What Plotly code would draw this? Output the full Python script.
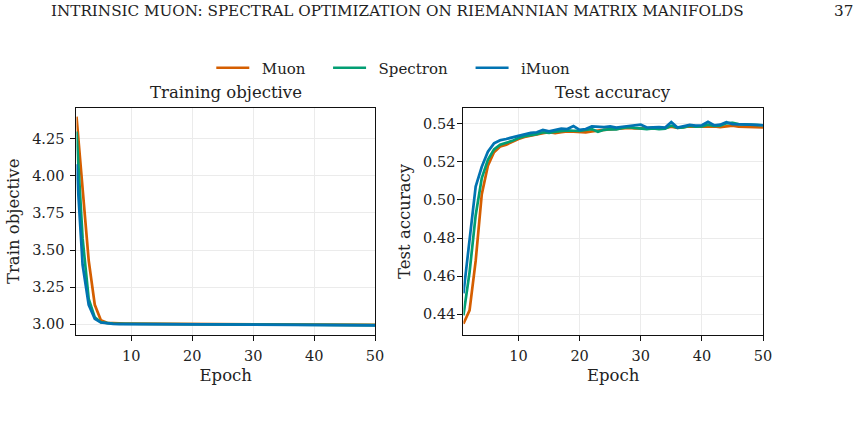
import plotly.graph_objects as go

# ---------------- data ----------------
epochs = list(range(1, 51))

train_muon = [4.40, 3.92, 3.43, 3.13, 3.025, 3.008, 3.005, 3.004, 3.003, 3.003,
              3.0025, 3.002, 3.002, 3.0015, 3.0015, 3.001, 3.001, 3.0005, 3.0005, 3.000,
              3.000, 2.9995, 2.9995, 2.999, 2.999, 2.9988, 2.9986, 2.9984, 2.9982, 2.998,
              2.9978, 2.9976, 2.9974, 2.9972, 2.997, 2.9968, 2.9966, 2.9964, 2.9962, 2.996,
              2.9958, 2.9956, 2.9954, 2.9952, 2.995, 2.9948, 2.9946, 2.9944, 2.9942, 2.994]
train_spectron = [4.30, 3.58, 3.17, 3.045, 3.012, 3.005, 3.003, 3.002, 3.0015, 3.001,
                  3.001, 3.0005, 3.0005, 3.000, 3.000, 2.9995, 2.9995, 2.999, 2.999, 2.9988,
                  2.9986, 2.9984, 2.9982, 2.998, 2.9978, 2.9976, 2.9974, 2.9972, 2.997, 2.9968,
                  2.9966, 2.9964, 2.9962, 2.996, 2.9958, 2.9956, 2.9954, 2.9952, 2.995, 2.9948,
                  2.9946, 2.9944, 2.9942, 2.994, 2.9938, 2.9936, 2.9934, 2.9932, 2.993, 2.9928]
train_imuon = [4.08, 3.40, 3.13, 3.035, 3.010, 3.003, 3.001, 3.000, 2.9998, 2.9996,
               2.9994, 2.9992, 2.999, 2.9988, 2.9986, 2.9984, 2.9982, 2.998, 2.9978, 2.9976,
               2.9974, 2.9972, 2.997, 2.9968, 2.9966, 2.9964, 2.9962, 2.996, 2.9958, 2.9956,
               2.9954, 2.9952, 2.995, 2.9948, 2.9946, 2.9944, 2.9942, 2.994, 2.9938, 2.9936,
               2.9934, 2.9932, 2.993, 2.9928, 2.9926, 2.9924, 2.9922, 2.992, 2.9918, 2.9916]

acc_muon = [0.435, 0.442, 0.468, 0.503, 0.518, 0.525, 0.528, 0.529, 0.5305, 0.532,
            0.533, 0.5338, 0.5342, 0.535, 0.5355, 0.535, 0.5355, 0.536, 0.5358, 0.5356,
            0.5355, 0.536, 0.5365, 0.5368, 0.537, 0.5372, 0.5375, 0.5378, 0.5376, 0.5374,
            0.5375, 0.5378, 0.5376, 0.5378, 0.5385, 0.5378, 0.5382, 0.5386, 0.5384, 0.5385,
            0.5388, 0.5386, 0.5382, 0.5386, 0.539, 0.5385, 0.5383, 0.5384, 0.5381, 0.538]
acc_spectron = [0.4395, 0.462, 0.492, 0.5115, 0.521, 0.5265, 0.529, 0.530, 0.531, 0.5325,
                0.5335, 0.534, 0.5345, 0.5355, 0.5352, 0.5358, 0.5362, 0.5365, 0.5363, 0.5362,
                0.5368, 0.5372, 0.5358, 0.5368, 0.5372, 0.537, 0.5378, 0.5382, 0.5378, 0.5376,
                0.5372, 0.5375, 0.5372, 0.5374, 0.539, 0.5378, 0.538, 0.539, 0.5385, 0.5386,
                0.5395, 0.5388, 0.539, 0.5402, 0.5405, 0.5398, 0.5396, 0.5395, 0.5394, 0.5392]
acc_imuon = [0.451, 0.479, 0.507, 0.5174, 0.5253, 0.5297, 0.5313, 0.532, 0.5328, 0.534,
             0.5345, 0.5352, 0.5355, 0.5367, 0.536, 0.5365, 0.5374, 0.5372, 0.5388, 0.5368,
             0.5372, 0.5386, 0.5384, 0.5382, 0.5386, 0.538, 0.5384, 0.5388, 0.539, 0.5395,
             0.538, 0.5382, 0.5382, 0.538, 0.5409, 0.538, 0.5386, 0.5394, 0.539, 0.5392,
             0.541, 0.5392, 0.5395, 0.5408, 0.5398, 0.5396, 0.5397, 0.5395, 0.5394, 0.5392]

acc_std_muon = [0.0010, 0.0012, 0.0015, 0.0012, 0.0010, 0.0008, 0.0007, 0.0006, 0.0006, 0.0005,
                0.0005, 0.0005, 0.0004, 0.0005, 0.0004, 0.0005, 0.0004, 0.0004, 0.0005, 0.0004,
                0.0004, 0.0005, 0.0004, 0.0004, 0.0005, 0.0004, 0.0004, 0.0005, 0.0004, 0.0004,
                0.0004, 0.0005, 0.0004, 0.0004, 0.0005, 0.0004, 0.0004, 0.0005, 0.0004, 0.0004,
                0.0005, 0.0004, 0.0004, 0.0006, 0.0007, 0.0005, 0.0004, 0.0004, 0.0004, 0.0004]
acc_std_spectron = [0.0012, 0.0014, 0.0013, 0.0011, 0.0009, 0.0008, 0.0007, 0.0006, 0.0006, 0.0005,
                    0.0005, 0.0004, 0.0005, 0.0004, 0.0005, 0.0004, 0.0004, 0.0005, 0.0004, 0.0004,
                    0.0005, 0.0004, 0.0006, 0.0004, 0.0004, 0.0005, 0.0004, 0.0004, 0.0005, 0.0004,
                    0.0004, 0.0005, 0.0004, 0.0004, 0.0006, 0.0005, 0.0004, 0.0005, 0.0004, 0.0004,
                    0.0005, 0.0004, 0.0005, 0.0008, 0.0009, 0.0006, 0.0005, 0.0004, 0.0004, 0.0004]
acc_std_imuon = [0.0013, 0.0015, 0.0012, 0.0010, 0.0010, 0.0010, 0.0009, 0.0007, 0.0006, 0.0005,
                 0.0005, 0.0004, 0.0005, 0.0005, 0.0004, 0.0005, 0.0004, 0.0005, 0.0005, 0.0004,
                 0.0004, 0.0005, 0.0004, 0.0004, 0.0005, 0.0004, 0.0004, 0.0005, 0.0004, 0.0005,
                 0.0004, 0.0004, 0.0005, 0.0004, 0.0006, 0.0004, 0.0004, 0.0005, 0.0004, 0.0005,
                 0.0006, 0.0004, 0.0005, 0.0009, 0.0008, 0.0005, 0.0004, 0.0004, 0.0004, 0.0004]

series_names = ["Muon", "Spectron", "iMuon"]
series_colors = ["#d55e00", "#029e73", "#0173b2"]
band_colors = ["rgba(213,94,0,0.15)", "rgba(2,158,115,0.15)", "rgba(1,115,178,0.15)"]

header_text = "INTRINSIC MUON: SPECTRAL OPTIMIZATION ON RIEMANNIAN MATRIX MANIFOLDS"
page_number = "37"
left_title = "Training objective"
right_title = "Test accuracy"
left_ylabel = "Train objective"
right_ylabel = "Test accuracy"
xlabel = "Epoch"
x_ticks = [10, 20, 30, 40, 50]
left_yticks = [3.00, 3.25, 3.50, 3.75, 4.00, 4.25]
right_yticks = [0.44, 0.46, 0.48, 0.50, 0.52, 0.54]

# ---------------- figure ----------------
W, H = 868, 424
FONT = "DejaVu Serif"
TXT = "#222222"

fig = go.Figure()

train_series = [train_muon, train_spectron, train_imuon]
acc_series = [acc_muon, acc_spectron, acc_imuon]
acc_stds = [acc_std_muon, acc_std_spectron, acc_std_imuon]
legend_ids = ["legend", "legend2", "legend3"]
legend_line_starts = [216, 334, 478]   # pixel x where each legend sample line begins

for i in range(3):
    upper = [m + s for m, s in zip(acc_series[i], acc_stds[i])]
    lower = [m - s for m, s in zip(acc_series[i], acc_stds[i])]
    fig.add_trace(go.Scatter(
        x=epochs + epochs[::-1], y=upper + lower[::-1], fill="toself",
        fillcolor=band_colors[i], line=dict(width=0), hoverinfo="skip",
        showlegend=False, xaxis="x2", yaxis="y2"))

for i in range(3):
    fig.add_trace(go.Scatter(
        x=epochs, y=train_series[i], mode="lines", name="\u2002" + series_names[i],
        line=dict(color=series_colors[i], width=2.7), xaxis="x", yaxis="y",
        showlegend=True, legend=legend_ids[i]))
    fig.add_trace(go.Scatter(
        x=epochs, y=acc_series[i], mode="lines", name=series_names[i],
        line=dict(color=series_colors[i], width=2.7), xaxis="x2", yaxis="y2",
        showlegend=False))

ydom = [1 - 335 / H, 1 - 107.7 / H]
axis_common = dict(
    showline=True, mirror=True, linecolor="#111111", linewidth=1.3,
    ticks="outside", ticklen=5, tickwidth=1.1, tickcolor="#111111",
    showgrid=True, gridcolor="#ebebeb", gridwidth=0.9, zeroline=False,
    tickfont=dict(family=FONT, size=14.5, color=TXT),
)

legend_common = dict(orientation="h", xanchor="left", y=1 - 68 / H, yanchor="middle",
                     font=dict(family=FONT, size=15, color=TXT), bgcolor="rgba(0,0,0,0)",
                     itemwidth=33, borderwidth=0)

fig.update_layout(
    width=W, height=H,
    margin=dict(l=0, r=0, t=0, b=0),
    paper_bgcolor="white", plot_bgcolor="white",
    font=dict(family=FONT, color=TXT),
    xaxis=dict(domain=[77.3 / W, 379 / W], range=[1, 50], tickvals=x_ticks,
               anchor="y", ticklabelstandoff=2,
               title=dict(text=xlabel, font=dict(family=FONT, size=16.5, color=TXT), standoff=6),
               **axis_common),
    yaxis=dict(domain=ydom, range=[2.926, 4.461], tickvals=left_yticks,
               tickformat=".2f", anchor="x", ticklabelstandoff=3,
               title=dict(text=left_ylabel, font=dict(family=FONT, size=16.5, color=TXT), standoff=8),
               **axis_common),
    xaxis2=dict(domain=[468.3 / W, 771 / W], range=[1, 50], tickvals=x_ticks,
                anchor="y2", ticklabelstandoff=2,
                title=dict(text=xlabel, font=dict(family=FONT, size=16.5, color=TXT), standoff=6),
                **axis_common),
    yaxis2=dict(domain=ydom, range=[0.4291, 0.5484], tickvals=right_yticks,
                tickformat=".2f", anchor="x2", ticklabelstandoff=-1,
                title=dict(text=right_ylabel, font=dict(family=FONT, size=16.5, color=TXT), standoff=8),
                **axis_common),
    legend=dict(x=(legend_line_starts[0] - 2.5) / W, **legend_common),
    legend2=dict(x=(legend_line_starts[1] - 2.5) / W, **legend_common),
    legend3=dict(x=(legend_line_starts[2] - 2.5) / W, **legend_common),
    showlegend=True,
)

annotations = [
    dict(text=left_title, x=(77.3 + 379) / 2 / W, y=1 - 92 / H, xref="paper", yref="paper",
         xanchor="center", yanchor="middle", showarrow=False,
         font=dict(family=FONT, size=16.5, color=TXT)),
    dict(text=right_title, x=(468.3 + 771) / 2 / W, y=1 - 92 / H, xref="paper", yref="paper",
         xanchor="center", yanchor="middle", showarrow=False,
         font=dict(family=FONT, size=16.5, color=TXT)),
    dict(text=header_text, x=50 / W, y=1 - 11 / H, xref="paper", yref="paper",
         xanchor="left", yanchor="middle", showarrow=False,
         font=dict(family=FONT, size=15.2, color=TXT)),
    dict(text=page_number, x=864 / W, y=1 - 11 / H, xref="paper", yref="paper",
         xanchor="right", yanchor="middle", showarrow=False,
         font=dict(family=FONT, size=15.2, color=TXT)),
]
fig.update_layout(annotations=annotations)

fig.write_html("out.html")
